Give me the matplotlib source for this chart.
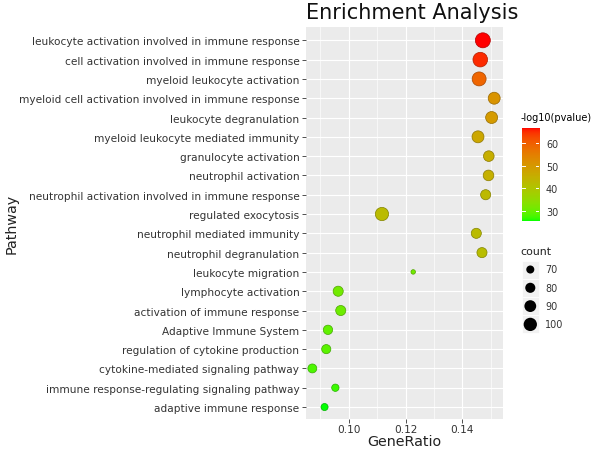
import numpy as np
import matplotlib
matplotlib.use('Agg')
import matplotlib.pyplot as plt
from matplotlib.colors import LinearSegmentedColormap, Normalize
from matplotlib.patches import Rectangle

# ---------------- data ----------------
pathways = [
    "leukocyte activation involved in immune response",
    "cell activation involved in immune response",
    "myeloid leukocyte activation",
    "myeloid cell activation involved in immune response",
    "leukocyte degranulation",
    "myeloid leukocyte mediated immunity",
    "granulocyte activation",
    "neutrophil activation",
    "neutrophil activation involved in immune response",
    "regulated exocytosis",
    "neutrophil mediated immunity",
    "neutrophil degranulation",
    "leukocyte migration",
    "lymphocyte activation",
    "activation of immune response",
    "Adaptive Immune System",
    "regulation of cytokine production",
    "cytokine-mediated signaling pathway",
    "immune response-regulating signaling pathway",
    "adaptive immune response",
]
gene_ratio = [0.1472, 0.1463, 0.1459, 0.1512, 0.1503, 0.1455, 0.1493, 0.1492,
              0.1482, 0.1117, 0.1449, 0.1469, 0.1227, 0.0963, 0.0972, 0.0927,
              0.0921, 0.0872, 0.0953, 0.0915]
counts = [113, 110, 105, 91, 91, 91, 83, 83, 80, 100, 80, 80, 58, 80, 80, 76,
          75, 74, 67, 66]
neglog10p = [66.5, 65.0, 59.0, 51.0, 49.5, 47.0, 45.5, 45.0, 43.0, 42.5, 42.5,
             42.0, 31.0, 31.0, 30.5, 29.5, 29.0, 28.0, 27.0, 25.7]

x_ticks = [0.10, 0.12, 0.14]
x_minor = [0.09, 0.11, 0.13, 0.15]
cbar_ticks = [30, 40, 50, 60]
size_breaks = [70, 80, 90, 100]

# ---------------- colour scale (Lab interpolation, like ggplot) ----------------
def srgb_to_lab(rgb):
    rgb = np.asarray(rgb, float)
    lin = np.where(rgb <= 0.04045, rgb / 12.92, ((rgb + 0.055) / 1.055) ** 2.4)
    M = np.array([[0.4124, 0.3576, 0.1805],
                  [0.2126, 0.7152, 0.0722],
                  [0.0193, 0.1192, 0.9505]])
    xyz = M @ lin
    xyz = xyz / np.array([0.95047, 1.0, 1.08883])
    f = np.where(xyz > 0.008856, np.cbrt(xyz), 7.787 * xyz + 16 / 116)
    L = 116 * f[1] - 16
    a = 500 * (f[0] - f[1])
    b = 200 * (f[1] - f[2])
    return np.array([L, a, b])

def lab_to_srgb(lab):
    L, a, b = lab
    fy_ = (L + 16) / 116
    fx_ = fy_ + a / 500
    fz_ = fy_ - b / 200
    f = np.array([fx_, fy_, fz_])
    xyz = np.where(f ** 3 > 0.008856, f ** 3, (f - 16 / 116) / 7.787)
    xyz = xyz * np.array([0.95047, 1.0, 1.08883])
    Minv = np.array([[3.2406, -1.5372, -0.4986],
                     [-0.9689, 1.8758, 0.0415],
                     [0.0557, -0.2040, 1.0570]])
    lin = np.clip(Minv @ xyz, 0, 1)
    rgb = np.where(lin <= 0.0031308, 12.92 * lin, 1.055 * lin ** (1 / 2.4) - 0.055)
    return np.clip(rgb, 0, 1)

lab_lo = srgb_to_lab([0, 1, 0])
lab_hi = srgb_to_lab([1, 0, 0])
cols = [lab_to_srgb(lab_lo + t * (lab_hi - lab_lo)) for t in np.linspace(0, 1, 256)]
cmap = LinearSegmentedColormap.from_list('gr', cols, N=256)
vmin, vmax = min(neglog10p), max(neglog10p)
norm = Normalize(vmin=vmin, vmax=vmax)

# ---------------- size scale (area linear, like ggplot) ----------------
D_MIN, D_MAX = 4.5, 15.0  # pixel diameters
cmin, cmax = min(counts), max(counts)
def marker_area(c):
    d2 = D_MIN ** 2 + (np.asarray(c, float) - cmin) / (cmax - cmin) * (D_MAX ** 2 - D_MIN ** 2)
    return d2 * 0.72 ** 2  # px^2 -> pt^2 at dpi 100

# ---------------- figure ----------------
W, H = 600, 452
fig = plt.figure(figsize=(W / 100, H / 100), dpi=100)
fig.patch.set_facecolor('white')

def fx(px):
    return px / W
def fy(py):
    return 1 - py / H

ax = fig.add_axes([fx(306), fy(420), (503 - 306) / W, (420 - 28) / H])
ax.set_facecolor('#EBEBEB')
for s in ax.spines.values():
    s.set_visible(False)

n = len(pathways)
ypos = np.arange(n)
face = cmap(norm(np.array(neglog10p)))
edge = face.copy()
edge[:, :3] = edge[:, :3] * 0.7
ax.scatter(gene_ratio, ypos, s=marker_area(counts), c=face, edgecolors=edge,
           linewidths=0.5, zorder=3)

ax.set_xlim(0.08497, 0.1543)
ax.set_ylim(n - 1 + 0.62, -0.69)
ax.set_xticks(x_ticks)
ax.set_xticklabels(['%.2f' % v for v in x_ticks])
ax.set_xticks(x_minor, minor=True)
ax.set_yticks(ypos)
ax.set_yticklabels(pathways)
ax.grid(True, which='major', color='white', linewidth=0.85, zorder=0)
ax.grid(True, which='minor', axis='x', color='white', linewidth=0.45, zorder=0)
ax.set_axisbelow(True)
ax.tick_params(axis='both', which='major', length=2.8, width=0.6, color='#333333',
               labelsize=7.6, labelcolor='#333333', pad=2)
ax.tick_params(axis='x', which='major', pad=0.8)
ax.tick_params(axis='x', which='minor', length=0)

ax.set_xlabel('GeneRatio', fontsize=10.3, color='#222222')
ax.xaxis.set_label_coords(0.5, (420 - 442) / (420 - 28))
ax.xaxis.label.set_va('center')
ax.set_ylabel('Pathway', fontsize=10.3, color='#222222')
ax.yaxis.set_label_coords((12 - 306) / (503 - 306), 0.5)
ax.yaxis.label.set_va('center')

fig.text(fx(306), fy(13), 'Enrichment Analysis', fontsize=15, color='#111111',
         ha='left', va='center')

# ---------------- colour bar ----------------
cax = fig.add_axes([fx(521.5), fy(222), 17.5 / W, 93 / H])
grad = np.linspace(vmin, vmax, 256).reshape(-1, 1)
cax.imshow(grad, cmap=cmap, norm=norm, aspect='auto', origin='lower',
           extent=[0, 1, vmin, vmax], interpolation='bilinear')
cax.set_xlim(0, 1)
cax.set_ylim(vmin, vmax)
for s in cax.spines.values():
    s.set_visible(False)
cax.set_xticks([])
cax.yaxis.tick_right()
cax.set_yticks(cbar_ticks)
cax.set_yticklabels([str(t) for t in cbar_ticks])
cax.tick_params(axis='y', length=0, labelsize=6.9, labelcolor='#333333', pad=5)
for t in cbar_ticks:
    cax.plot([0, 0.2], [t, t], color='white', lw=0.7)
    cax.plot([0.8, 1.0], [t, t], color='white', lw=0.7)
fig.text(fx(520.5), fy(118), '-log10(pvalue)', fontsize=7.0, fontweight='normal',
         color='#000000', ha='left', va='center')

# ---------------- size legend ----------------
lax = fig.add_axes([fx(515), fy(340), 85 / W, 95 / H])
lax.set_xlim(515, 600)
lax.set_ylim(340, 245)
lax.axis('off')
fig.text(fx(520.5), fy(252), 'count', fontsize=7.9, color='#222222', ha='left', va='center')
key_y = [270.5, 288.8, 307.1, 325.4]
for v, yk in zip(size_breaks, key_y):
    lax.add_patch(Rectangle((521.5, yk - 9), 17.5, 18, facecolor='#F2F2F2',
                            edgecolor='white', lw=0.6))
    lax.text(545, yk, str(v), fontsize=6.9, color='#333333', ha='left', va='center')
lax.scatter([530.3] * len(size_breaks), key_y, s=marker_area(size_breaks), c='black',
            linewidths=0, zorder=3)

fig.savefig('out.png', dpi=100)
